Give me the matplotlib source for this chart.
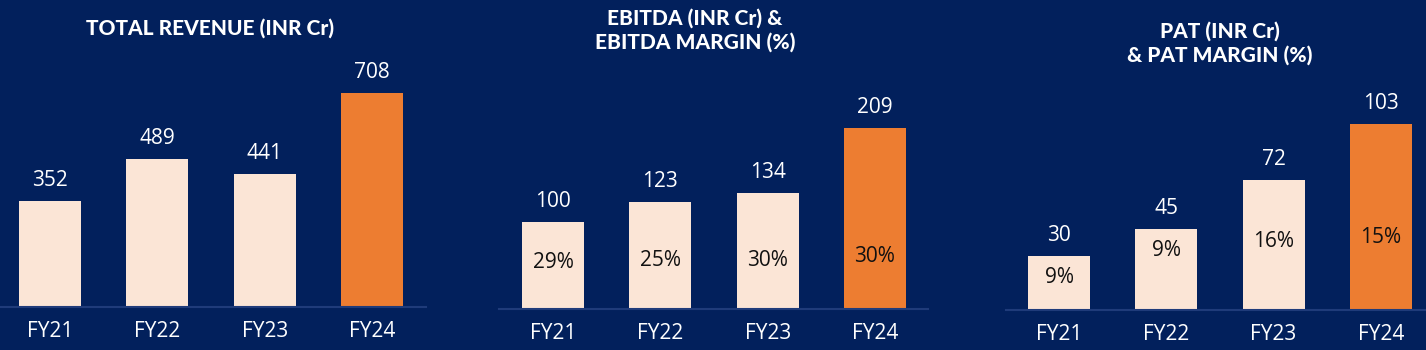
import matplotlib
matplotlib.use("Agg")
import matplotlib.pyplot as plt

years = ["FY21", "FY22", "FY23", "FY24"]
revenue = [352, 489, 441, 708]
ebitda = [100, 123, 134, 209]
ebitda_margin = ["29%", "25%", "30%", "30%"]
pat = [30, 45, 72, 103]
pat_margin = ["9%", "9%", "16%", "15%"]

BG = "#02205c"
LIGHT = "#fbe5d6"
ORANGE = "#ed7d31"
LINE = "#1f3b7a"

W, H = 1426, 350
fig = plt.figure(figsize=(W / 100, H / 100), dpi=100, facecolor=BG)


def panel(x0, x1, base, top, xlim, ymax, vals, margins=None, pct_y=None):
    ax = fig.add_axes([x0 / W, (H - base) / H, (x1 - x0) / W, (base - top) / H])
    ax.set_facecolor(BG)
    cols = [LIGHT, LIGHT, LIGHT, ORANGE]
    xs = range(len(years))
    ax.bar(xs, vals, width=0.578, color=cols)
    ax.set_xlim(*xlim)
    ax.set_ylim(0, ymax)
    for s in ["top", "left", "right"]:
        ax.spines[s].set_visible(False)
    ax.spines["bottom"].set_color(LINE)
    ax.spines["bottom"].set_linewidth(1.5)
    ax.set_yticks([])
    ax.set_xticks(list(xs))
    ax.set_xticklabels(years, color="white", fontsize=15, family="Open Sans")
    ax.tick_params(axis="x", length=0, pad=10)
    for i, v in enumerate(vals):
        ax.annotate(str(v), (i, v), xytext=(0, 10), textcoords="offset pixels",
                    ha="center", va="bottom", color="white", fontsize=15,
                    family="Open Sans", annotation_clip=False)
    if margins:
        for i, m in enumerate(margins):
            ax.text(i, pct_y[i], m, ha="center", va="center", color="#111111",
                    fontsize=15, family="Open Sans")
    return ax


panel(0, 426, 307, 60, (-0.466, 3.503), 247 / 0.302, revenue)
panel(499, 928, 309, 80, (-0.503, 3.494), 229 / 0.868, ebitda,
      ebitda_margin, [54, 56, 56, 60])
panel(1006, 1426, 310, 80, (-0.494, 3.42), 230 / 1.806, pat,
      pat_margin, [18, 33, 38, 40])

tkw = dict(color="white", fontsize=15, fontweight="black", family="Lato",
           ha="center", va="center", linespacing=1.25)
fig.text(210 / W, 1 - 28 / H, "TOTAL REVENUE (INR Cr)", **tkw)
fig.text(695 / W, 1 - 30 / H, "EBITDA (INR Cr) &\nEBITDA MARGIN (%)", **tkw)
fig.text(1220 / W, 1 - 43 / H, "PAT (INR Cr)\n& PAT MARGIN (%)", **tkw)

fig.savefig("out.png", dpi=100, facecolor=BG)
